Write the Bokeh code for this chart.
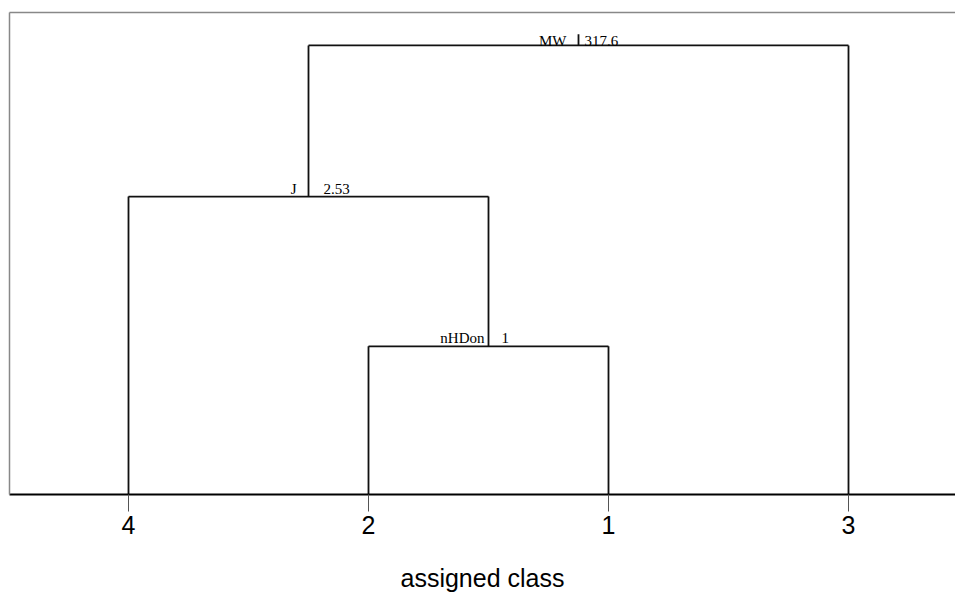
from bokeh.plotting import figure
from bokeh.models import FixedTicker, LinearAxis, Range1d
from bokeh.core.properties import value
from bokeh.embed import file_html
from bokeh.resources import INLINE

# ---- data ----
leaf_labels = ["4", "2", "1", "3"]          # leaf order left to right
split_vars = ["nHDon", "J", "MW"]           # split variable of each merge
split_values = ["1", "2.53", "317.6"]       # split threshold of each merge
split_heights = [0.99, 1.99, 3.0]           # height of each merge
# R-style merge matrix: negative = leaf position, positive = earlier merge
merge = [[-2, -3], [-1, 1], [2, -4]]

# ---- styles ----
name_dx = [-4, -12, -12]
value_dx = [13, 15, 6]
label_dy = [-8, -8, -4]
LINE = "#111111"

# ---- compute dendrogram geometry ----
node_x, node_h = [], []
hx0, hx1, hy = [], [], []
vx, vy0, vy1 = [], [], []


def child_pos(c):
    if c < 0:
        return float(-c), 0.0
    return node_x[c - 1], node_h[c - 1]


for i, (a, b) in enumerate(merge):
    h = split_heights[i]
    xa, ha = child_pos(a)
    xb, hb = child_pos(b)
    hx0.append(xa); hx1.append(xb); hy.append(h)
    vx += [xa, xb]; vy0 += [ha, hb]; vy1 += [h, h]
    node_x.append((xa + xb) / 2)
    node_h.append(h)

n = len(leaf_labels)
W, H = 955, 594
FL = 9          # frame left
p = figure(width=W, height=H, output_backend="svg", toolbar_location=None,
           x_range=Range1d(1 - (128 - FL) / 240.0, 1 - (128 - FL) / 240.0 + (W - FL) / 240.0),
           y_range=Range1d(0, 3.22),
           min_border_left=FL, min_border_right=0, min_border_top=12,
           min_border_bottom=99, x_axis_location=None, y_axis_location=None)
p.outline_line_color = None
p.grid.visible = False
p.background_fill_color = "white"
p.border_fill_color = "white"

# bottom axis with leaf labels
xa = LinearAxis(ticker=FixedTicker(ticks=list(range(1, n + 1))),
                major_label_overrides={i + 1: lab for i, lab in enumerate(leaf_labels)})
xa.axis_line_color = "black"
xa.axis_line_width = 2
xa.major_tick_in = 0
xa.major_tick_out = 17
xa.major_tick_line_color = "#555555"
xa.major_tick_line_width = 1
xa.minor_tick_line_color = None
xa.major_label_standoff = 4
xa.major_label_text_font = "Liberation Sans"
xa.major_label_text_font_size = "25px"
xa.major_label_text_color = "black"
xa.axis_label = "assigned class"
xa.axis_label_text_font = "Liberation Sans"
xa.axis_label_text_font_size = "25px"
xa.axis_label_text_font_style = "normal"
xa.axis_label_text_color = "black"
xa.axis_label_standoff = 27
p.add_layout(xa, "below")

# frame borders (left, top) drawn as bare axes
for loc in ("left", "above"):
    ax = LinearAxis(ticker=FixedTicker(ticks=[]))
    ax.axis_line_color = "#888888"
    ax.axis_line_width = 1.5
    ax.major_tick_out = 0
    ax.major_tick_in = 0
    ax.minor_tick_out = 0
    ax.minor_tick_in = 0
    ax.major_label_standoff = 0
    ax.major_label_text_font_size = "0px"
    p.add_layout(ax, loc)

# dendrogram lines
p.segment(x0=hx0, y0=hy, x1=hx1, y1=hy, line_color=LINE, line_width=1.8)
p.segment(x0=vx, y0=vy0, x1=vx, y1=vy1, line_color=LINE, line_width=1.8)
# root tick
p.segment(x0=[node_x[-1]], y0=[node_h[-1]], x1=[node_x[-1]], y1=[node_h[-1] + 0.075],
          line_color=LINE, line_width=1.8)

# split labels
for i in range(len(split_vars)):
    p.text(x=[node_x[i]], y=[node_h[i]], text=[split_vars[i]], text_align="right",
           text_baseline="alphabetic", x_offset=name_dx[i], y_offset=label_dy[i],
           text_font=value("Liberation Serif"), text_font_size="15px", text_color="black")
    p.text(x=[node_x[i]], y=[node_h[i]], text=[split_values[i]], text_align="left",
           text_baseline="alphabetic", x_offset=value_dx[i], y_offset=label_dy[i],
           text_font=value("Liberation Serif"), text_font_size="15px", text_color="black")

open("out.html", "w").write(file_html(p, INLINE))
